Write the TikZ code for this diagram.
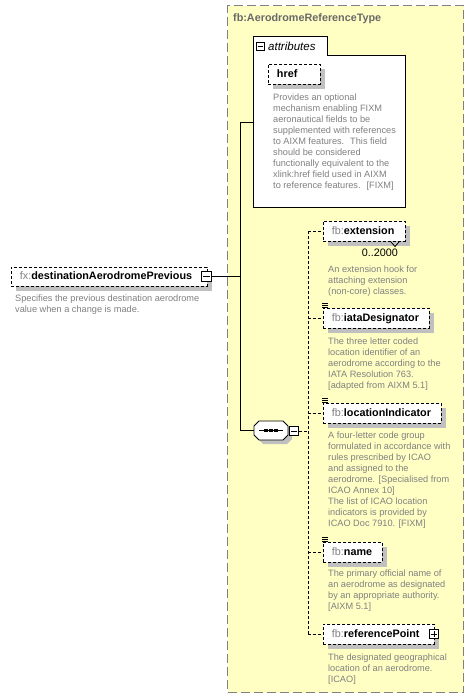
\documentclass[tikz,border=0pt]{standalone}
\usepackage{fontspec}
\setmainfont{Liberation Sans}
\usetikzlibrary{shadows}
\definecolor{cbg}{RGB}{255,255,196}
\definecolor{cframe}{RGB}{128,128,128}
\definecolor{cdesc}{RGB}{128,128,128}
\definecolor{cpre}{RGB}{128,128,128}
\definecolor{cshadow}{RGB}{192,192,192}
\definecolor{ctitle}{RGB}{105,105,105}
\newcommand\dl[1]{\begin{tabular}[t]{@{}l@{}}#1\end{tabular}}
\newcommand\pre[1]{{\color{cpre}\mdseries #1}}
\begin{document}
\begin{tikzpicture}[x=1pt,y=-1pt,
  namefont/.style={font=\fontsize{10.8}{12}\selectfont\bfseries},
  elbox/.style={draw, dash pattern=on 3pt off 2pt, line width=0.9pt, fill=white,
    inner xsep=8.5pt, inner ysep=0pt, minimum height=20pt, align=left,
    text height=8pt, text depth=2.5pt, anchor=north west, namefont,
    drop shadow={shadow xshift=5pt, shadow yshift=-5pt, fill=cshadow, opacity=1}},
  pmbox/.style={draw, solid, fill=white, minimum size=9.5pt, inner sep=0pt, line width=0.9pt},
  desc/.style={font=\fontsize{9.2}{11}\selectfont, text=cdesc, inner sep=0pt, anchor=base west},
  conn/.style={line width=1pt},
  dconn/.style={line width=1pt, dash pattern=on 3pt off 2pt},
  container/.style={draw=cframe, fill=cbg, line width=1.2pt, dash pattern=on 9pt off 4pt,
    inner sep=0pt, anchor=north west}]
\useasboundingbox (0,0) rectangle (475,700);
\fill[white] (0,0) rectangle (475,700);

% complex type container
\node[container, minimum width=236pt, minimum height=687pt] (ctype) at (227,5) {};
\node[anchor=base west, font=\fontsize{10.8}{12}\selectfont\bfseries, text=ctitle, inner sep=0pt] (title) at (233,22) {fb:AerodromeReferenceType};

% attributes box
\draw[fill=white, line width=0.9pt] (253,36) -- (327,36) -- (327,55) -- (405,55) -- (405,207) -- (253,207) -- cycle;
\node[pmbox, minimum size=8pt] (attrpm) at (260,46) {};
\draw[line width=0.9pt] (257.5,46) -- (262.5,46);
\node[anchor=base west, font=\fontsize{11.5}{12}\selectfont\itshape, inner sep=0pt] (attrlbl) at (268,50.5) {attributes};
\node[elbox, text width=35pt] (href) at (268,64) {href};
\node[desc] (dhref) at (273,100.5) {\dl{Provides an optional\\mechanism enabling FIXM\\aeronautical fields to be\\supplemented with references\\to AIXM features.~ This field\\should be considered\\functionally equivalent to the\\xlink:href field used in AIXM\\to reference features.~ {[}FIXM{]}}};

% main element
\node[elbox, text width=179pt, minimum height=19pt] (main) at (11,267) {\pre{fx:}destinationAerodromePrevious};
\node[pmbox] (mainpm) at (206.5,276.5) {};
\draw[line width=0.9pt] ([xshift=2pt]mainpm.west) -- ([xshift=-2pt]mainpm.east);
\node[desc] (dmain) at (15,301.5) {\dl{Specifies the previous destination aerodrome\\value when a change is made.}};

% sequence compositor
\path[fill=cshadow, shift={(4,4)}] (254,426) -- (259,421) -- (283,421) -- (288,426) -- (288,435) -- (283,440) -- (259,440) -- (254,435) -- cycle;
\draw[fill=white, line width=0.9pt] (254,426) -- (259,421) -- (283,421) -- (288,426) -- (288,435) -- (283,440) -- (259,440) -- (254,435) -- cycle;
\node[inner sep=0pt, minimum width=34pt, minimum height=19pt] (seq) at (271,430.5) {};
\draw[line width=1pt] (259,430.5) -- (283,430.5);
\foreach \dx in {266,271,276} \fill (\dx-1.6,429) rectangle (\dx+1.6,432);
\node[pmbox] (seqpm) at (294,431) {};
\draw[line width=0.9pt] ([xshift=2pt]seqpm.west) -- ([xshift=-2pt]seqpm.east);

% child elements
\node[elbox, text width=65pt] (ext) at (323,221) {\pre{fb:}extension};
\draw[line width=0.8pt] (391,242) -- (395,246.5) -- (399,242);
\node[anchor=base east, font=\fontsize{10.8}{12}\selectfont, inner sep=0pt] (occ) at (398,257) {0..2000};
\node[desc] (dext) at (328,272.5) {\dl{An extension hook for\\attaching extension\\(non-core) classes.}};

\node[elbox, text width=89pt] (iata) at (323,308) {\pre{fb:}iataDesignator};
\node[desc] (diata) at (328,344.5) {\dl{The three letter coded\\location identifier of an\\aerodrome according to the\\IATA Resolution 763.\\{[}adapted from AIXM 5.1{]}}};

\node[elbox, text width=101pt] (loc) at (323,403) {\pre{fb:}locationIndicator};
\node[desc] (dloc) at (328,438.5) {\dl{A four-letter code group\\formulated in accordance with\\rules prescribed by ICAO\\and assigned to the\\aerodrome. {[}Specialised from\\ICAO Annex 10{]}\\The list of ICAO location\\indicators is provided by\\ICAO Doc 7910. {[}FIXM{]}}};

\node[elbox, text width=42pt] (name) at (323,542) {\pre{fb:}name};
\node[desc] (dname) at (328,576.5) {\dl{The primary official name of\\an aerodrome as designated\\by an appropriate authority.\\{[}AIXM 5.1{]}}};

\node[elbox, text width=94pt] (refp) at (323,624) {\pre{fb:}referencePoint};
\node[pmbox] (refpm) at (434,634) {};
\draw[line width=0.9pt] ([xshift=2pt]refpm.west) -- ([xshift=-2pt]refpm.east);
\draw[line width=0.9pt] ([yshift=-2pt]refpm.north) -- ([yshift=2pt]refpm.south);
\node[desc] (drefp) at (328,660) {\dl{The designated geographical\\location of an aerodrome.\\{[}ICAO{]}}};

% simple-type list icons
\foreach \e in {iata,loc,name}
  \foreach \dy in {1,3,5}
    \draw[line width=0.6pt] ([xshift=-1pt,yshift=\dy pt]\e.north west) -- ++(6,0);

% connectors
\coordinate (jtop) at (240,123);
\coordinate (jbot) at (240,430.5);
\coordinate (attrin) at (253,123);
\coordinate (vx) at (308,431);
\draw[conn] (mainpm.east) -- (mainpm.east -| jtop);
\draw[conn] (attrin) -- (jtop) -- (jbot) -- (seq.west);
\draw[dconn] (seqpm.east) -- (vx);
\draw[dconn] (ext.west -| vx) -- (refp.west -| vx);
\foreach \e in {ext,iata,loc,name,refp}
  \draw[dconn] (\e.west -| vx) -- (\e.west);
\end{tikzpicture}
\end{document}
